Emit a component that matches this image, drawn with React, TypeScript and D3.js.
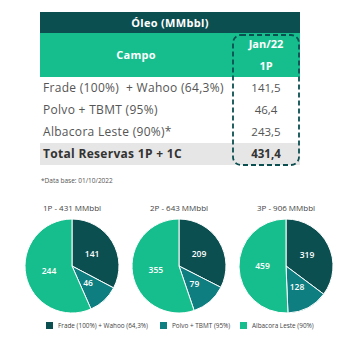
import { useEffect, useRef } from 'react'
import * as d3 from 'd3'

const fields = ['Frade (100%)  + Wahoo (64,3%)', 'Polvo + TBMT (95%)', 'Albacora Leste (90%)*']
const values1P = ['141,5', '46,4', '243,5']
const totalLabel = 'Total Reservas 1P + 1C'
const totalValue = '431,4'

const pieTitles = ['1P - 431 MMbbl', '2P - 643 MMbbl', '3P - 906 MMbbl']
const frade = [141, 209, 319]
const polvo = [46, 79, 128]
const albacora = [244, 355, 459]
const legendLabels = ['Frade (100%) + Wahoo (64,3%)', 'Polvo + TBMT (95%)', 'Albacora Leste (90%)']

const DARK = '#0c4f51'
const TEAL = '#0e7e80'
const GREEN = '#17be8d'

export default function App() {
  const ref = useRef<SVGSVGElement>(null)

  useEffect(() => {
    const svg = d3.select(ref.current)
    svg.selectAll('*').remove()
    const font = '"Open Sans", sans-serif'

    // table
    const left = 40, right = 300, split = 232
    svg.append('rect').attr('x', left).attr('y', 12).attr('width', right - left).attr('height', 21).attr('fill', DARK)
    svg.append('text').attr('x', (left + right) / 2).attr('y', 27).attr('text-anchor', 'middle')
      .attr('fill', 'white').attr('font-weight', 700).attr('font-size', 11).attr('font-family', font)
      .attr('letter-spacing', 0.3).text('Óleo (MMbbl)')
    svg.append('rect').attr('x', left).attr('y', 33).attr('width', right - left).attr('height', 44).attr('fill', GREEN)
    svg.append('text').attr('x', (left + split) / 2).attr('y', 59).attr('text-anchor', 'middle')
      .attr('fill', 'white').attr('font-weight', 700).attr('font-size', 11).attr('font-family', font)
      .attr('letter-spacing', 0.3).text('Campo')
    const colX = (split + right) / 2
    svg.append('text').attr('x', colX).attr('y', 48).attr('text-anchor', 'middle')
      .attr('fill', 'white').attr('font-weight', 700).attr('font-size', 11).attr('font-family', font)
      .text('Jan/22')
    svg.append('text').attr('x', colX).attr('y', 70).attr('text-anchor', 'middle')
      .attr('fill', 'white').attr('font-weight', 700).attr('font-size', 11).attr('font-family', font)
      .text('1P')

    const rowY = d3.scaleBand().domain(d3.range(4).map(String)).range([77, 165])
    svg.append('rect').attr('x', left).attr('y', rowY('3')!).attr('width', right - left)
      .attr('height', rowY.bandwidth()).attr('fill', '#e6e6e6')
    const rows = [...fields.map((f, i) => ({ f, v: values1P[i], bold: false })), { f: totalLabel, v: totalValue, bold: true }]
    rows.forEach((r, i) => {
      const y = rowY(String(i))! + rowY.bandwidth() / 2 + 4
      svg.append('text').attr('x', 43).attr('y', y).attr('fill', r.bold ? '#333' : '#555')
        .attr('font-weight', r.bold ? 700 : 400).attr('font-size', 12).attr('font-family', font)
        .attr('letter-spacing', 0.3).style('white-space', 'pre').text(r.f)
      svg.append('text').attr('x', colX).attr('y', y).attr('text-anchor', 'middle').attr('fill', r.bold ? '#333' : '#555')
        .attr('font-weight', r.bold ? 700 : 400).attr('font-size', 11.5).attr('font-family', font).text(r.v)
    })

    svg.append('rect').attr('x', split + 1).attr('y', 35).attr('width', right - split - 2).attr('height', 130)
      .attr('rx', 8).attr('fill', 'none').attr('stroke', DARK).attr('stroke-width', 1.8)
      .attr('stroke-dasharray', '5,3')

    svg.append('text').attr('x', 41).attr('y', 183).attr('fill', '#555').attr('font-size', 6.5)
      .attr('font-family', font).text('*Data base: 01/10/2022')

    // pies
    const colors = [DARK, TEAL, GREEN]
    const cx = d3.scalePoint().domain(pieTitles).range([72, 286])
    const r = 47
    const pie = d3.pie<number>().sort(null).value(d => d)
    const arc = d3.arc<d3.PieArcDatum<number>>().innerRadius(0).outerRadius(r)
    pieTitles.forEach((t, i) => {
      const g = svg.append('g').attr('transform', `translate(${cx(t)},266)`)
      svg.append('text').attr('x', cx(t)!).attr('y', 211).attr('text-anchor', 'middle').attr('fill', '#444')
        .attr('font-size', 8).attr('font-family', font).text(t)
      const arcs = pie([frade[i], polvo[i], albacora[i]])
      g.selectAll('path').data(arcs).enter().append('path')
        .attr('d', arc).attr('fill', (_, j) => colors[j]).attr('stroke', 'white').attr('stroke-width', 1)
      g.selectAll('text').data(arcs).enter().append('text')
        .attr('transform', d => `translate(${arc.centroid(d)})`)
        .attr('dy', '0.35em').attr('text-anchor', 'middle').attr('fill', 'white')
        .attr('font-size', 8.5).attr('font-weight', 600).attr('font-family', font)
        .text(d => d.data)
    })

    // legend
    const lx = [46, 160, 240]
    legendLabels.forEach((l, i) => {
      svg.append('rect').attr('x', lx[i]).attr('y', 322).attr('width', 7).attr('height', 7).attr('fill', colors[i])
      svg.append('text').attr('x', lx[i] + 12).attr('y', 328).attr('fill', '#444').attr('font-size', 6.4)
        .attr('font-family', font).text(l)
    })
  }, [])

  return (
    <svg ref={ref} width={351} height={353} style={{ position: 'absolute', left: 0, top: 0, background: 'white' }} />
  )
}
